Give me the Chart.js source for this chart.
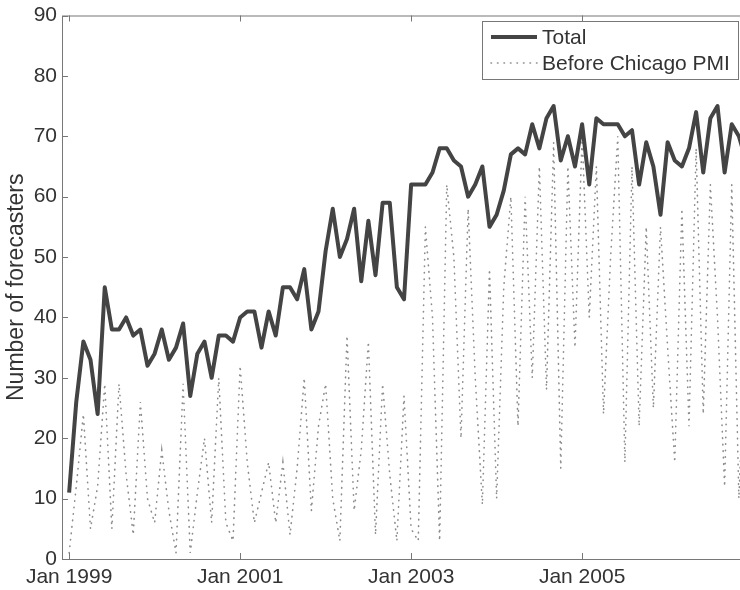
<!DOCTYPE html>
<html>
<head>
<meta charset="utf-8">
<script src="https://cdn.jsdelivr.net/npm/chart.js@4/dist/chart.umd.min.js"></script>
<style>
  html, body { margin: 0; padding: 0; background: #fff; overflow: hidden; }
  canvas { display: block; }
</style>
</head>
<body>
<canvas id="chart" width="746" height="590"></canvas>
<script>
// monthly counts, Jan 1999 .. Dec 2006
const total = [
  11, 26, 36, 33, 24, 45, 38, 38, 40, 37, 38, 32,
  34, 38, 33, 35, 39, 27, 34, 36, 30, 37, 37, 36,
  40, 41, 41, 35, 41, 37, 45, 45, 43, 48, 38, 41,
  51, 58, 50, 53, 58, 46, 56, 47, 59, 59, 45, 43,
  62, 62, 62, 64, 68, 68, 66, 65, 60, 62, 65, 55,
  57, 61, 67, 68, 67, 72, 68, 73, 75, 66, 70, 65,
  72, 62, 73, 72, 72, 72, 70, 71, 62, 69, 65, 57,
  69, 66, 65, 68, 74, 64, 73, 75, 64, 72, 70, 66
];

const beforePmi = [
   1, 12, 24,  5, 12, 29,  5, 29, 14,  4, 26, 10,
   6, 18,  8,  1, 29,  1, 11, 20,  6, 30,  6,  3,
  32, 16,  6, 11, 16,  6, 16,  4, 15, 30,  8, 22,
  29, 10,  3, 37,  8, 18, 36,  4, 29, 14,  3, 27,
   5,  3, 55, 40,  3, 62, 50, 20, 58, 30,  9, 48,
  10, 45, 60, 22, 60, 30, 65, 28, 69, 15, 65, 35,
  70, 40, 65, 24, 50, 70, 16, 65, 22, 55, 25, 55,
  35, 16, 58, 22, 68, 24, 62, 40, 12, 62, 10, 40
];

const tickMonths = [0, 24, 48, 72];
const tickLabels = ['Jan 1999', 'Jan 2001', 'Jan 2003', 'Jan 2005'];
const yTicks = [0, 10, 20, 30, 40, 50, 60, 70, 80, 90];

const FONT = '"Liberation Sans", Arial, Helvetica, sans-serif';
const TEXT = '#333';

const toPoints = arr => arr.map((v, i) => ({ x: i, y: v }));

// box around the axes with inward ticks
const framePlugin = {
  id: 'frame',
  afterDatasetsDraw(chart) {
    const { ctx, chartArea: a, scales } = chart;
    ctx.save();
    ctx.strokeStyle = '#777';
    ctx.lineWidth = 1;
    ctx.strokeRect(a.left + 0.5, a.top + 0.5, a.right - a.left - 1, a.bottom - a.top);
    ctx.beginPath();
    tickMonths.forEach(m => {
      const x = Math.round(scales.x.getPixelForValue(m)) + 0.5;
      ctx.moveTo(x, a.bottom); ctx.lineTo(x, a.bottom - 6);
      ctx.moveTo(x, a.top); ctx.lineTo(x, a.top + 6);
    });
    yTicks.forEach(v => {
      const y = Math.round(scales.y.getPixelForValue(v)) + 0.5;
      ctx.moveTo(a.left, y); ctx.lineTo(a.left + 6, y);
    });
    ctx.stroke();
    ctx.restore();
  }
};

// legend box in the upper right corner
const legendBox = {
  id: 'legendBox',
  afterDraw(chart) {
    const { ctx } = chart;
    const x0 = 482, y0 = 21, w = 256, h = 58;
    ctx.save();
    ctx.fillStyle = '#fff';
    ctx.fillRect(x0, y0, w, h);
    ctx.strokeStyle = '#777';
    ctx.lineWidth = 1;
    ctx.strokeRect(x0 + 0.5, y0 + 0.5, w, h);
    chart.data.datasets.forEach((ds, i) => {
      const y = y0 + 16 + i * 26;
      ctx.beginPath();
      ctx.strokeStyle = ds.borderColor;
      ctx.lineWidth = ds.borderWidth;
      ctx.lineCap = ds.borderCapStyle || 'butt';
      ctx.setLineDash(ds.borderDash || []);
      ctx.moveTo(x0 + 9, y);
      ctx.lineTo(x0 + 55, y);
      ctx.stroke();
      ctx.setLineDash([]);
      ctx.fillStyle = TEXT;
      ctx.font = '21px ' + FONT;
      ctx.textBaseline = 'middle';
      ctx.fillText(ds.label, x0 + 60, y + 1);
    });
    ctx.restore();
  }
};

new Chart(document.getElementById('chart'), {
  type: 'line',
  data: {
    datasets: [
      {
        label: 'Total',
        data: toPoints(total),
        borderColor: '#444',
        borderWidth: 4,
        borderJoinStyle: 'round',
        pointRadius: 0,
        tension: 0
      },
      {
        label: 'Before Chicago PMI',
        data: toPoints(beforePmi),
        borderColor: '#8c8c8c',
        borderWidth: 1.6,
        borderDash: [0.5, 6],
        borderCapStyle: 'round',
        pointRadius: 0,
        tension: 0
      }
    ]
  },
  options: {
    responsive: false,
    animation: false,
    devicePixelRatio: 1,
    layout: { padding: { top: 11, left: 0, right: 0, bottom: 0 } },
    plugins: {
      legend: { display: false },
      tooltip: { enabled: false }
    },
    scales: {
      x: {
        type: 'linear',
        min: -1,
        max: 95,
        grid: { display: false, drawTicks: false },
        border: { display: false },
        afterBuildTicks: s => { s.ticks = tickMonths.map(v => ({ value: v })); },
        afterFit: s => { s.height = 31; },
        ticks: {
          autoSkip: false,
          maxRotation: 0,
          padding: 6,
          color: TEXT,
          font: { family: FONT, size: 21 },
          callback: v => tickLabels[tickMonths.indexOf(v)]
        }
      },
      y: {
        min: 0,
        max: 90,
        grid: { display: false, drawTicks: false },
        border: { display: false },
        afterBuildTicks: s => { s.ticks = yTicks.map(v => ({ value: v })); },
        afterFit: s => { s.width = 62; },
        ticks: {
          padding: 5,
          color: TEXT,
          font: { family: FONT, size: 21, lineHeight: 1 }
        },
        title: {
          display: true,
          text: 'Number of forecasters',
          color: TEXT,
          font: { family: FONT, size: 23 },
          padding: { top: 3, bottom: 0 }
        }
      }
    }
  },
  plugins: [framePlugin, legendBox]
});
</script>
</body>
</html>
